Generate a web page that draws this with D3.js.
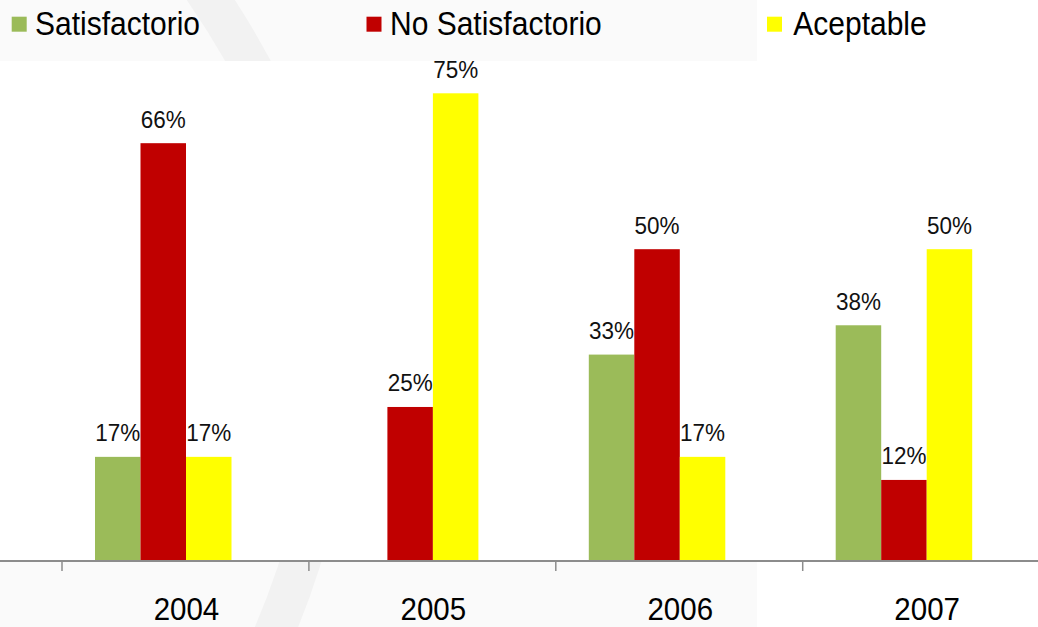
<!DOCTYPE html>
<html>
<head>
<meta charset="utf-8">
<script src="https://cdn.jsdelivr.net/npm/d3@7"></script>
<style>
  html, body { margin: 0; padding: 0; background: #ffffff; }
  svg { display: block; font-family: "Liberation Sans", Arial, sans-serif; }
</style>
</head>
<body>
<svg id="chart" width="1038" height="627"></svg>
<script>
// ---- data ----
const years = ["2004", "2005", "2006", "2007"];
const seriesNames = ["Satisfactorio", "No Satisfactorio", "Aceptable"];
const seriesColors = ["#9BBB59", "#C00000", "#FFFF00"];
const satisfactorio = [16.7, null, 33.1, 37.8];
const noSatisfactorio = [67.0, 24.7, 50, 13.0];
const aceptable = [16.7, 75, 16.7, 50];
const satisfactorioLabels = ["17%", "", "33%", "38%"];
const noSatisfactorioLabels = ["66%", "25%", "50%", "12%"];
const aceptableLabels = ["17%", "75%", "17%", "50%"];

const seriesValues = [satisfactorio, noSatisfactorio, aceptable];
const seriesLabels = [satisfactorioLabels, noSatisfactorioLabels, aceptableLabels];

const W = 1038, H = 627;
const svg = d3.select("#chart");

// ---- background ----
svg.append("rect").attr("x", 0).attr("y", 0).attr("width", W).attr("height", H).attr("fill", "#ffffff");
svg.append("rect").attr("x", 0).attr("y", 0).attr("width", 757).attr("height", 61).attr("fill", "#fafafa");
svg.append("rect").attr("x", 0).attr("y", 562).attr("width", 757).attr("height", 65).attr("fill", "#fafafa");
// faint watermark swoosh
svg.append("path")
  .attr("d", "M 190,-30 Q 430,300 262,660")
  .attr("fill", "none").attr("stroke", "#f2f2f2").attr("stroke-width", 40);
// plot area (white)
svg.append("rect").attr("x", 0).attr("y", 61).attr("width", W).attr("height", 500).attr("fill", "#ffffff");

// ---- scales ----
const x = d3.scaleBand().domain(years).range([62, 62 + 4 * 246.9]).padding(0);
const y = d3.scaleLinear().domain([0, 75]).range([561, 93.3]);
const barW = 45.5;
const groupOffset = 33;

// ---- bars ----
seriesValues.forEach((vals, si) => {
  const g = svg.append("g");
  const data = years.map((yr, i) => ({ yr, v: vals[i], label: seriesLabels[si][i] })).filter(d => d.v != null);
  g.selectAll("rect").data(data).enter().append("rect")
    .attr("x", d => x(d.yr) + groupOffset + si * barW)
    .attr("y", d => y(d.v))
    .attr("width", barW)
    .attr("height", d => y(0) - y(d.v))
    .attr("fill", seriesColors[si]);
  g.selectAll("text").data(data).enter().append("text")
    .attr("transform", d => `translate(${x(d.yr) + groupOffset + si * barW + barW / 2},${y(d.v) - 15.5}) scale(1,1.05)`)
    .attr("text-anchor", "middle")
    .attr("font-size", 22.5)
    .attr("fill", "#111")
    .text(d => d.label);
});

// ---- axis ----
const axis = d3.axisBottom(x).tickSize(10).tickSizeOuter(0).tickFormat("");
const axG = svg.append("g").attr("transform", "translate(0,561)").call(axis);
axG.select(".domain").remove();
// move ticks to band boundaries (left edge of each band)
axG.selectAll(".tick").attr("transform", d => `translate(${x(d)},0)`);
axG.selectAll(".tick line").attr("stroke", "#8c8c8c").attr("stroke-width", 1.5);
svg.append("line").attr("x1", 0).attr("x2", W).attr("y1", 561).attr("y2", 561)
  .attr("stroke", "#8c8c8c").attr("stroke-width", 2);
// year labels
svg.append("g").selectAll("text").data(years).enter().append("text")
  .attr("transform", d => `translate(${x(d) + x.bandwidth() / 2 + 1},620) scale(1,1.06)`)
  .attr("text-anchor", "middle")
  .attr("font-size", 29.5)
  .attr("fill", "#000")
  .text(d => d);

// ---- legend ----
const legendX = [11.7, 366.5, 767];
const lg = svg.append("g");
seriesNames.forEach((name, i) => {
  lg.append("rect").attr("x", legendX[i]).attr("y", 16.7).attr("width", 15).attr("height", 15)
    .attr("fill", seriesColors[i]);
  lg.append("text")
    .attr("transform", `translate(${legendX[i] + (i === 0 ? 23.3 : (i === 1 ? 23.5 : 26.3))},35) scale(1,1.08)`)
    .attr("font-size", 30)
    .attr("fill", "#000")
    .text(name);
});
</script>
</body>
</html>
